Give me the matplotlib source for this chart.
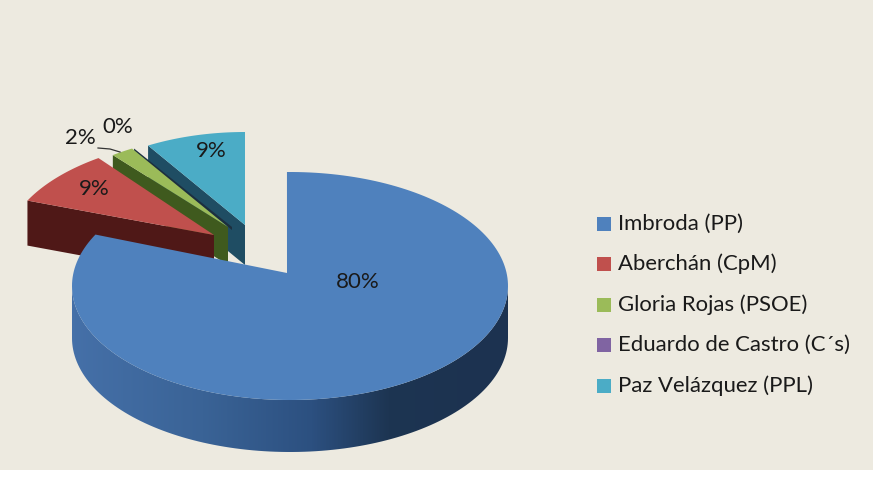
import numpy as np
import matplotlib
matplotlib.use("Agg")
import matplotlib.pyplot as plt
from matplotlib.patches import Polygon, Rectangle

names = ["Imbroda (PP)", "Aberchán (CpM)", "Gloria Rojas (PSOE)", "Eduardo de Castro (C´s)", "Paz Velázquez (PPL)"]
values = [80, 9, 2, 0, 9]
pct_labels = ["80%", "9%", "2%", "0%", "9%"]
top_colors = ["#4f81bd", "#c0504d", "#9bbb59", "#8064a2", "#4bacc6"]
side_colors = ["#2d5282", "#4f1817", "#3f5a1e", "#1c2f3f", "#1f4d63"]

# where each slice sits (exploded), pie centre and its apex
centers = [(290, 286), (222, 252), (229, 249), (231, 249), (245, 246)]
apexes = [(287, 273), (214, 235), (228, 227), (232, 227), (245, 225)]
depths = [52, 45, 38, 3, 40]
radii_x = [218, 218, 205, 205, 205]
ry = 114

label_pos = [(358, 282), (94, 189), (80, 138), (118, 127), (211, 151)]
legend_y = [224, 264, 305, 345, 386]

plt.rcParams["font.family"] = ["Lato", "DejaVu Sans"]

fig = plt.figure(figsize=(8.8, 4.95), dpi=100)
fig.patch.set_facecolor("white")
ax = fig.add_axes([0, 0, 1, 1])
ax.axis("off")

# beige panel
ax.add_patch(Rectangle((0, 0), 873, 470, color="#edeae0", lw=0, zorder=0))


def warp(t):
    # perspective: the back of the pie looks narrower
    return t + 15 * np.sin(np.radians(t / 2))


def rim(center, rx, t):
    a = np.radians(t)
    return center[0] + rx * np.sin(a), center[1] - ry * np.cos(a)


edges = np.cumsum([0] + values) / sum(values) * 360

# back slices first, the big one goes over them
for i in [4, 3, 2, 1]:
    a0, a1 = warp(edges[i]), warp(edges[i + 1])
    c, ap, d, rx = centers[i], apexes[i], depths[i], radii_x[i]
    x0, y0 = rim(c, rx, a0)
    ax.add_patch(Polygon([(x0, y0), ap, (ap[0], ap[1] + d), (x0, y0 + d)],
                         color=side_colors[i], lw=0, zorder=2 + (4 - i) * 2))
    ts = np.linspace(a0, a1, 30)
    xs, ys = rim(c, rx, ts)
    pts = list(zip(xs, ys)) + [ap]
    ax.add_patch(Polygon(pts, color=top_colors[i], lw=0, zorder=3 + (4 - i) * 2))

# side of the big slice with gradient
c, ap, d, rx = centers[0], apexes[0], depths[0], radii_x[0]
ts = np.linspace(90, 270, 120)
xs, ys = rim(c, rx, ts)
side = Polygon(list(zip(xs, ys)) + list(zip(xs[::-1], ys[::-1] + d)), color="none", lw=0)
ax.add_patch(side)
grad = np.interp(np.linspace(0, 1, 256), [0, 0.3, 0.55, 0.8, 1], [0.0, 0.25, 0.5, 0.85, 1.0])
cmap = matplotlib.colors.LinearSegmentedColormap.from_list("sd", ["#4570a8", "#3a6396", "#2c5080", "#1d3552", "#1c3250"])
im = ax.imshow(grad[None, :], extent=(c[0] - rx, c[0] + rx, 470, 270), cmap=cmap, aspect="auto", zorder=12)
im.set_clip_path(side)

a0, a1 = warp(edges[0]) - 0.8, warp(edges[1])
ts = np.linspace(a0, a1, 200)
xs, ys = rim(c, rx, ts)
ax.add_patch(Polygon(list(zip(xs, ys)) + [ap], color=top_colors[0], lw=0, zorder=13))

# 2% leader line
ax.plot([98, 110, 120], [148, 149, 152], color="#333333", lw=0.9, zorder=14)

for txt, (x, y) in zip(pct_labels, label_pos):
    ax.text(x, y, txt, ha="center", va="center", fontsize=16, color="#1a1a1a", zorder=15)

for name, col, y in zip(names, top_colors, legend_y):
    ax.add_patch(Rectangle((597, y - 7), 14, 14, color=col, lw=0, zorder=5))
    ax.text(618, y, name, ha="left", va="center", fontsize=15.9, color="#1a1a1a", zorder=5)

ax.set_xlim(0, 880)
ax.set_ylim(495, 0)
fig.savefig("out.png", dpi=100)
